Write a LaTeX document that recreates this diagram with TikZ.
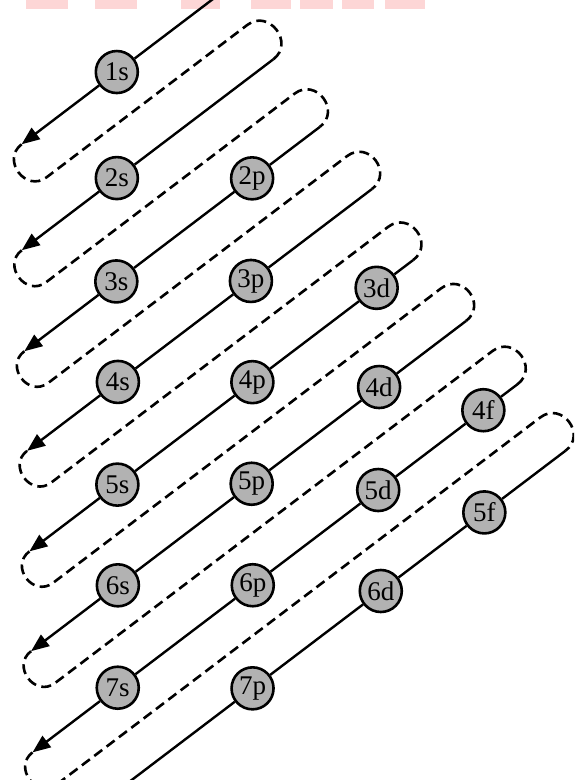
\documentclass[tikz,border=0pt]{standalone}
\usepackage{fontspec}
\setmainfont{Liberation Serif}
\usetikzlibrary{arrows.meta}
\definecolor{wmpink}{RGB}{253,214,214}
\tikzset{
  orb/.style={circle, draw=black, line width=2.6pt, fill=black!30, minimum size=42pt,
    inner sep=0pt, font=\fontsize{27}{27}\selectfont},
  solidln/.style={line width=2.4pt, -{Triangle[length=18pt,width=14pt]}},
  plainln/.style={line width=2.4pt},
  dashln/.style={line width=2.6pt, dash pattern=on 10pt off 5.5pt},
}
\begin{document}
\begin{tikzpicture}[x=1pt,y=1pt]
\useasboundingbox (0,0) rectangle (574,-780);
\clip (0,0) rectangle (574,-780);
% watermark remnants at top edge
\foreach \xa/\xb in {26/68,95/137,181/220,251/291,300/333,342/374,385/425}
  \fill[wmpink] (\xa,0) rectangle (\xb,-9);
\begin{scope}[rotate=37.2]
  % nodes (a, -p) in the frame of the diagonals
  \node[orb] (o1s) at (49.5,-128) {1s};
  \node[orb] (o2s) at (-14.6,-212.5) {2s};
  \node[orb] (o2p) at (93,-294.5) {2p};
  \node[orb] (o3s) at (-77.5,-294.5) {3s};
  \node[orb] (o3p) at (30,-375.5) {3p};
  \node[orb] (o4s) at (-137,-375.5) {4s};
  \node[orb] (o3d) at (126,-457) {3d};
  \node[orb] (o4p) at (-30,-457) {4p};
  \node[orb] (o5s) at (-199.5,-457) {5s};
  \node[orb] (o4d) at (68,-537.5) {4d};
  \node[orb] (o5p) at (-92,-537.5) {5p};
  \node[orb] (o6s) at (-260,-537.5) {6s};
  \node[orb] (o4f) at (137,-619) {4f};
  \node[orb] (o5d) at (5,-619) {5d};
  \node[orb] (o6p) at (-152.5,-619) {6p};
  \node[orb] (o7s) at (-322,-619) {7s};
  \node[orb] (o5f) at (76,-701) {5f};
  \node[orb] (o6d) at (-54,-701) {6d};
  \node[orb] (o7p) at (-215,-701) {7p};
  % top ends
  \coordinate (T1) at (185,-128);
  \coordinate (T2) at (182,-212.5);
  \coordinate (T3) at (178,-294.5);
  \coordinate (T4) at (182,-375.5);
  \coordinate (T5) at (172,-457);
  \coordinate (T6) at (177,-537.5);
  \coordinate (T7) at (180,-619);
  \coordinate (T8) at (178,-701);
  % bottom ends (arrow tips)
  \coordinate (B1) at (-70,-128);
  \coordinate (B2) at (-134,-212.5);
  \coordinate (B3) at (-193,-294.5);
  \coordinate (B4) at (-251,-375.5);
  \coordinate (B5) at (-310,-457);
  \coordinate (B6) at (-369,-537.5);
  \coordinate (B7) at (-429,-619);
  \coordinate (B8) at (-420,-701);
  % dashed return lines: bottom and top corners
  \coordinate (D1b) at (-70,-169.4);   \coordinate (D1t) at (182,-169.4);
  \coordinate (D2b) at (-134,-252.7);  \coordinate (D2t) at (178,-252.7);
  \coordinate (D3b) at (-193,-334.2);  \coordinate (D3t) at (182,-334.2);
  \coordinate (D4b) at (-251,-415.4);  \coordinate (D4t) at (172,-415.4);
  \coordinate (D5b) at (-310,-496.4);  \coordinate (D5t) at (177,-496.4);
  \coordinate (D6b) at (-369,-577.4);  \coordinate (D6t) at (180,-577.4);
  \coordinate (D7b) at (-429,-659.2);  \coordinate (D7t) at (178,-659.2);
  % solid diagonals
  \draw[solidln] (T1) -- (o1s) -- (B1);
  \draw[solidln] (T2) -- (o2s) -- (B2);
  \draw[solidln] (T3) -- (o2p) -- (o3s) -- (B3);
  \draw[solidln] (T4) -- (o3p) -- (o4s) -- (B4);
  \draw[solidln] (T5) -- (o3d) -- (o4p) -- (o5s) -- (B5);
  \draw[solidln] (T6) -- (o4d) -- (o5p) -- (o6s) -- (B6);
  \draw[solidln] (T7) -- (o4f) -- (o5d) -- (o6p) -- (o7s) -- (B7);
  \draw[plainln] (T8) -- (o5f) -- (o6d) -- (o7p) -- (B8);
  % dashed returns
  \draw[dashln] (B1) .. controls +(180:26) and +(180:26) .. (D1b) -- (D1t)
    .. controls +(0:27) and +(0:27) .. (T2);
  \draw[dashln] (B2) .. controls +(180:25) and +(180:25) .. (D2b) -- (D2t)
    .. controls +(0:27) and +(0:27) .. (T3);
  \draw[dashln] (B3) .. controls +(180:25) and +(180:25) .. (D3b) -- (D3t)
    .. controls +(0:27) and +(0:27) .. (T4);
  \draw[dashln] (B4) .. controls +(180:25) and +(180:25) .. (D4b) -- (D4t)
    .. controls +(0:27) and +(0:27) .. (T5);
  \draw[dashln] (B5) .. controls +(180:25) and +(180:25) .. (D5b) -- (D5t)
    .. controls +(0:27) and +(0:27) .. (T6);
  \draw[dashln] (B6) .. controls +(180:25) and +(180:25) .. (D6b) -- (D6t)
    .. controls +(0:27) and +(0:27) .. (T7);
  \draw[dashln] (B7) .. controls +(180:25) and +(180:25) .. (D7b) -- (D7t)
    .. controls +(0:27) and +(0:27) .. (T8);
\end{scope}
\end{tikzpicture}
\end{document}
